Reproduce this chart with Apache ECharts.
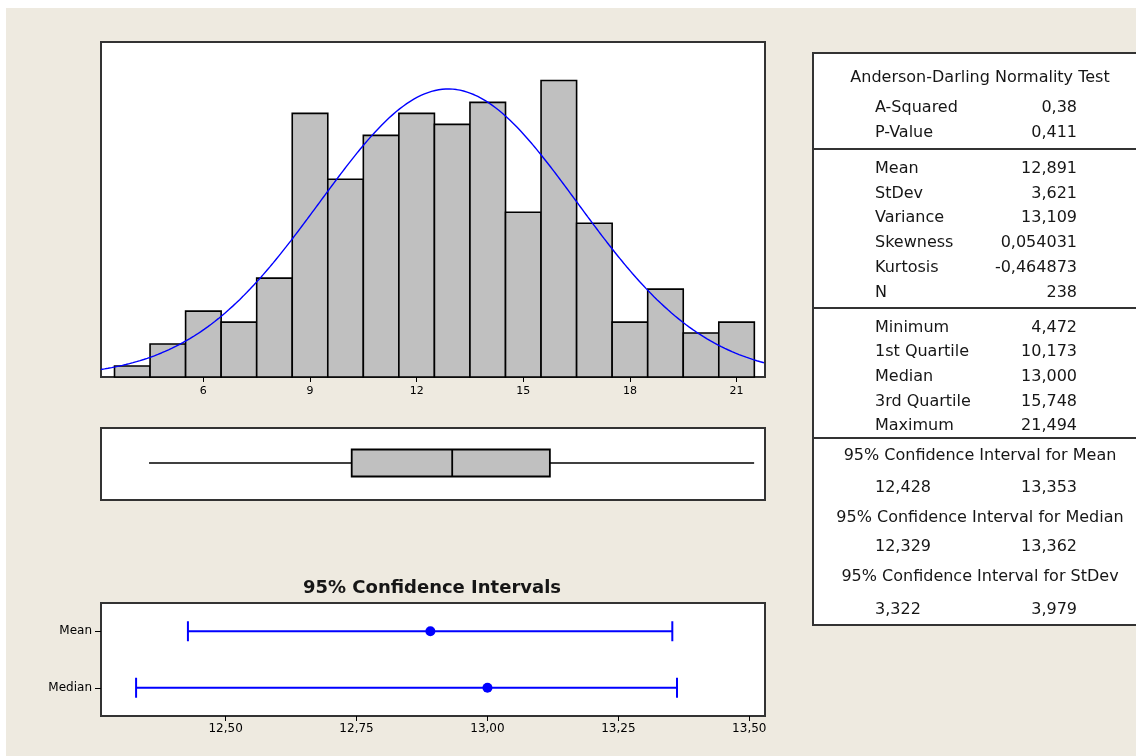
<!DOCTYPE html>
<html>
<head>
<meta charset="utf-8">
<title>Graphical Summary</title>
<script src="https://cdn.jsdelivr.net/npm/echarts@6/dist/echarts.min.js"></script>
<style>
  html, body { margin: 0; padding: 0; background: #ffffff; }
  #bg { position: absolute; left: 6px; top: 8px; width: 1130px; height: 748px; background: #EEEAE0; }
  #chart { position: absolute; left: 0; top: 0; width: 1136px; height: 756px; }
</style>
</head>
<body>
<div id="bg"></div>
<div id="chart"></div>
<script>
// ---- Histogram (bin width 1, bins centred on whole numbers) ----
const binCenters = [4, 5, 6, 7, 8, 9, 10, 11, 12, 13, 14, 15, 16, 17, 18, 19, 20, 21];
const binCounts  = [1, 3, 6, 5, 9, 24, 18, 22, 24, 23, 25, 15, 27, 14, 5, 8, 4, 5];
const histTicks  = [6, 9, 12, 15, 18, 21];

// ---- Summary statistics ----
const sampleN   = 238;
const sampleMean = 12.891;
const sampleStDev = 3.621;
const fiveNumber = [4.472, 10.173, 13.000, 15.748, 21.494]; // min, Q1, median, Q3, max

// ---- 95% confidence intervals ----
const ciNames  = ['Mean', 'Median'];
const ciCenter = [12.891, 13.000];
const ciLow    = [12.428, 12.329];
const ciHigh   = [13.353, 13.362];
const ciTicks  = [12.50, 12.75, 13.00, 13.25, 13.50];

// ---- Statistics table text ----
const adTitle       = 'Anderson-Darling Normality Test';
const adLabels      = ['A-Squared', 'P-Value'];
const adValues      = ['0,38', '0,411'];
const momentLabels  = ['Mean', 'StDev', 'Variance', 'Skewness', 'Kurtosis', 'N'];
const momentValues  = ['12,891', '3,621', '13,109', '0,054031', '-0,464873', '238'];
const quantLabels   = ['Minimum', '1st Quartile', 'Median', '3rd Quartile', 'Maximum'];
const quantValues   = ['4,472', '10,173', '13,000', '15,748', '21,494'];
const ciTableTitles = ['95% Confidence Interval for Mean',
                       '95% Confidence Interval for Median',
                       '95% Confidence Interval for StDev'];
const ciTableValues = [['12,428', '13,353'], ['12,329', '13,362'], ['3,322', '3,979']];

// Layout constants
const HX_MIN = 3.12, HX_MAX = 21.8, HY_MAX = 30.5;
const CX_MIN = 12.262, CX_MAX = 13.53;
const BLUE = '#0000ff';
const FRAME = '#333333';
const TXT = '#000000';
const FONT = '"DejaVu Sans", Verdana, sans-serif';

// Fitted normal density (from the stated mean / StDev), scaled to counts
const binWidth = 1;
const fitCurve = [];
for (let x = HX_MIN; x <= HX_MAX + 1e-9; x += 0.05) {
  const z = (x - sampleMean) / sampleStDev;
  const pdf = Math.exp(-0.5 * z * z) / (sampleStDev * Math.sqrt(2 * Math.PI));
  fitCurve.push([x, sampleN * binWidth * pdf]);
}

const commaFmt = (v, d) => v.toFixed(d).replace('.', ',');

// ---- Statistics table graphic ----
const tbl = [];
const TL = 813, TT = 53, TW = 340, TB = 625;
const LABEL_X = 875, VALUE_X = 1077, CENTER_X = 980;
tbl.push({ type: 'rect', shape: { x: TL, y: TT, width: TW, height: TB - TT },
  style: { fill: '#ffffff', stroke: FRAME, lineWidth: 2 }, z: 1 });
[149, 308, 438].forEach(y => tbl.push({ type: 'line',
  shape: { x1: TL, y1: y, x2: TL + TW, y2: y }, style: { stroke: FRAME, lineWidth: 2 }, z: 2 }));
function txt(s, x, y, align, bold) {
  tbl.push({ type: 'text', x: x, y: y, z: 3,
    style: { text: s, fill: '#161616', font: (bold ? 'bold ' : '') + '16px ' + FONT,
             textAlign: align, textVerticalAlign: 'middle' } });
}
txt(adTitle, CENTER_X, 78, 'center');
const adY = [108, 133];
adLabels.forEach((l, i) => { txt(l, LABEL_X, adY[i], 'left'); txt(adValues[i], VALUE_X, adY[i], 'right'); });
const momY = [169, 194, 218, 243, 268, 293];
momentLabels.forEach((l, i) => { txt(l, LABEL_X, momY[i], 'left'); txt(momentValues[i], VALUE_X, momY[i], 'right'); });
const qY = [328, 352, 377, 402, 426];
quantLabels.forEach((l, i) => { txt(l, LABEL_X, qY[i], 'left'); txt(quantValues[i], VALUE_X, qY[i], 'right'); });
const ciTY = [456, 518, 577], ciVY = [488, 547, 610];
ciTableTitles.forEach((t, i) => {
  txt(t, CENTER_X, ciTY[i], 'center');
  txt(ciTableValues[i][0], LABEL_X, ciVY[i], 'left');
  txt(ciTableValues[i][1], VALUE_X, ciVY[i], 'right');
});
// Confidence interval panel title
tbl.push({ type: 'text', x: 432, y: 588, z: 3,
  style: { text: '95% Confidence Intervals', fill: '#161616', font: 'bold 18px ' + FONT,
           textAlign: 'center', textVerticalAlign: 'middle' } });

const chart = echarts.init(document.getElementById('chart'), null, { renderer: 'canvas' });

const gridBase = { show: true, backgroundColor: '#ffffff', borderColor: FRAME, borderWidth: 2, containLabel: false };

chart.setOption({
  animation: false,
  backgroundColor: 'transparent',
  grid: [
    Object.assign({ left: 101, top: 42, width: 664, height: 335 }, gridBase),
    Object.assign({ left: 101, top: 428, width: 664, height: 72 }, gridBase),
    Object.assign({ left: 101, top: 603, width: 664, height: 113 }, gridBase)
  ],
  xAxis: [
    { type: 'value', gridIndex: 0, min: HX_MIN, max: HX_MAX,
      axisLine: { show: false }, splitLine: { show: false },
      axisTick: { show: true, length: 5, customValues: histTicks, lineStyle: { color: '#000', width: 1 } },
      axisLabel: { customValues: histTicks, color: TXT, fontSize: 11, fontFamily: FONT, margin: 9 } },
    { type: 'value', gridIndex: 1, min: HX_MIN, max: HX_MAX, show: false },
    { type: 'value', gridIndex: 2, min: CX_MIN, max: CX_MAX,
      axisLine: { show: false }, splitLine: { show: false },
      axisTick: { show: true, length: 5, customValues: ciTicks, lineStyle: { color: '#000', width: 1 } },
      axisLabel: { customValues: ciTicks, color: TXT, fontSize: 12, fontFamily: FONT, margin: 7,
                   formatter: v => commaFmt(v, 2) } }
  ],
  yAxis: [
    { type: 'value', gridIndex: 0, min: 0, max: HY_MAX, show: false },
    { type: 'value', gridIndex: 1, min: 0, max: 1, show: false },
    { type: 'category', gridIndex: 2, data: ciNames, inverse: true,
      axisLine: { show: false }, splitLine: { show: false },
      axisTick: { show: true, alignWithLabel: true, length: 6, lineStyle: { color: '#000', width: 1 } },
      axisLabel: { color: TXT, fontSize: 12, fontFamily: FONT, margin: 9 } }
  ],
  graphic: tbl,
  series: [
    { // histogram bars
      type: 'custom', xAxisIndex: 0, yAxisIndex: 0,
      data: binCenters.map((c, i) => [c, binCounts[i]]),
      encode: { x: 0, y: 1 },
      renderItem: (params, api) => {
        const c = api.value(0), n = api.value(1);
        const p1 = api.coord([c - binWidth / 2, n]);
        const p2 = api.coord([c + binWidth / 2, 0]);
        return { type: 'rect', shape: { x: p1[0], y: p1[1], width: p2[0] - p1[0], height: p2[1] - p1[1] },
                 style: { fill: '#C0C0C0', stroke: '#000', lineWidth: 1.6 } };
      }, z: 2
    },
    { // fitted normal curve
      type: 'line', xAxisIndex: 0, yAxisIndex: 0, data: fitCurve,
      showSymbol: false, smooth: false, clip: true,
      lineStyle: { color: BLUE, width: 1.4 }, z: 3
    },
    { // box plot (no whisker caps)
      type: 'custom', xAxisIndex: 1, yAxisIndex: 1,
      data: [fiveNumber],
      encode: { x: [0, 1, 2, 3, 4] },
      renderItem: (params, api) => {
        const v = [0, 1, 2, 3, 4].map(k => api.coord([api.value(k), 0.5]));
        const yc = v[0][1] - 1, h = 13.5;
        const st = { stroke: '#000', lineWidth: 1.5 };
        return { type: 'group', children: [
          { type: 'line', shape: { x1: v[0][0], y1: yc, x2: v[1][0], y2: yc }, style: st },
          { type: 'line', shape: { x1: v[3][0], y1: yc, x2: v[4][0], y2: yc }, style: st },
          { type: 'rect', shape: { x: v[1][0], y: yc - h, width: v[3][0] - v[1][0], height: 2 * h },
            style: { fill: '#C0C0C0', stroke: '#000', lineWidth: 1.8 } },
          { type: 'line', shape: { x1: v[2][0], y1: yc - h, x2: v[2][0], y2: yc + h }, style: { stroke: '#000', lineWidth: 1.8 } }
        ] };
      }, z: 2
    },
    { // confidence intervals
      type: 'custom', xAxisIndex: 2, yAxisIndex: 2,
      data: ciNames.map((n, i) => [ciLow[i], ciHigh[i], ciCenter[i], i]),
      encode: { x: [0, 1, 2], y: 3 },
      renderItem: (params, api) => {
        const idx = api.value(3);
        const a = api.coord([api.value(0), idx]);
        const b = api.coord([api.value(1), idx]);
        const c = api.coord([api.value(2), idx]);
        const st = { stroke: BLUE, lineWidth: 2 };
        const cap = 10;
        return { type: 'group', children: [
          { type: 'line', shape: { x1: a[0], y1: a[1], x2: b[0], y2: b[1] }, style: st },
          { type: 'line', shape: { x1: a[0], y1: a[1] - cap, x2: a[0], y2: a[1] + cap }, style: st },
          { type: 'line', shape: { x1: b[0], y1: b[1] - cap, x2: b[0], y2: b[1] + cap }, style: st },
          { type: 'circle', shape: { cx: c[0], cy: c[1], r: 5 }, style: { fill: BLUE } }
        ] };
      }, z: 3
    }
  ]
});
</script>
</body>
</html>
